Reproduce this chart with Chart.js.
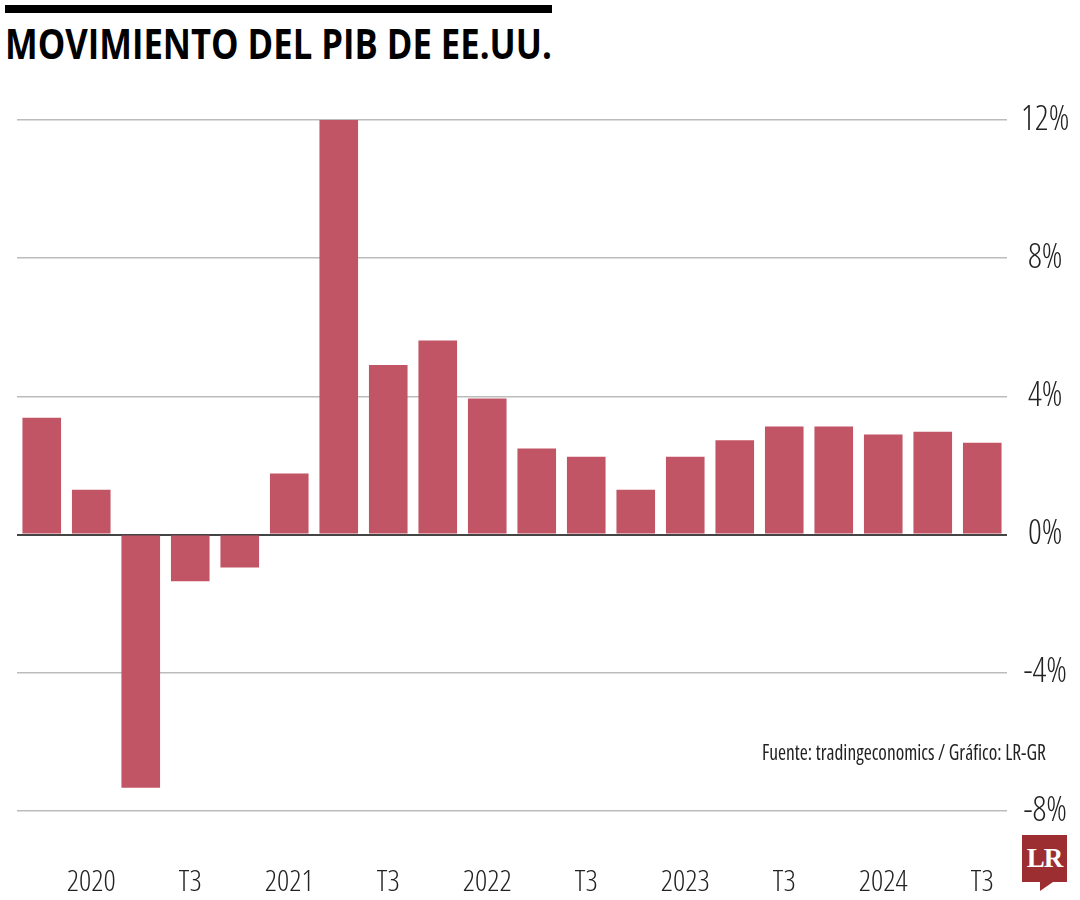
<!DOCTYPE html>
<html>
<head>
<meta charset="utf-8">
<script src="https://cdn.jsdelivr.net/npm/chart.js@4.4.1/dist/chart.umd.min.js"></script>
<style>
  html, body { margin: 0; padding: 0; background: #fff; }
  #page { position: relative; width: 1080px; height: 900px; overflow: hidden; }
  #topbar { position: absolute; left: 5px; top: 5px; width: 547px; height: 8px; background: #000; }
  #title { position: absolute; left: 5px; top: 22px; font-family: "Open Sans", sans-serif; font-weight: 700;
           font-size: 42px; line-height: 42px; color: #000; white-space: nowrap; transform-origin: left top; }
  #source { position: absolute; top: 739px; font-family: "Open Sans", sans-serif; font-stretch: condensed;
            font-size: 21px; line-height: 26px; color: #222; white-space: nowrap; transform-origin: left top; }
  #logo { position: absolute; left: 1022px; top: 835px; width: 45px; height: 47px; background: #9c2d30;
          color: #fff; font-family: "Liberation Serif", "DejaVu Serif", serif; font-weight: 700; font-size: 27px;
          line-height: 47px; text-align: center; letter-spacing: -1px; }
  #logotail { position: absolute; left: 1040px; top: 882px; width: 0; height: 0;
              border-top: 9px solid #9c2d30; border-right: 13px solid transparent; }
  #chartBox { position: absolute; left: 0; top: 90px; width: 1080px; height: 810px; }
</style>
</head>
<body>
<div id="page">
  <div id="topbar"></div>
  <div id="title">MOVIMIENTO DEL PIB DE EE.UU.</div>
  <div id="chartBox"><canvas id="gdpChart" width="1080" height="810"></canvas></div>
  <div id="source">Fuente: tradingeconomics / Gráfico: LR-GR</div>
  <div id="logo">LR</div>
  <div id="logotail"></div>
</div>
<script>
// quarters shown, 2019 T4 .. 2024 T3
var quarters = ["2019 T4", "2020 T1", "2020 T2", "2020 T3", "2020 T4",
                "2021 T1", "2021 T2", "2021 T3", "2021 T4",
                "2022 T1", "2022 T2", "2022 T3", "2022 T4",
                "2023 T1", "2023 T2", "2023 T3", "2023 T4",
                "2024 T1", "2024 T2", "2024 T3"];
var tickLabels = ["", "2020", "", "T3", "", "2021", "", "T3", "", "2022",
                  "", "T3", "", "2023", "", "T3", "", "2024", "", "T3"];
var gdpChange = [3.38, 1.30, -7.33, -1.35, -0.95, 1.77, 12.0, 4.91, 5.62, 3.94,
                 2.49, 2.25, 1.30, 2.25, 2.73, 3.13, 3.13, 2.90, 2.98, 2.66];
var yTicks = [-8, -4, 0, 4, 8, 12];

// squeeze a text block horizontally to the width it has in the original
function fitWidth(id, left, width) {
  var el = document.getElementById(id);
  el.style.left = left + "px";
  el.style.transform = "scaleX(" + (width / el.offsetWidth) + ")";
}
fitWidth("title", 5, 547);
fitWidth("source", 762, 284);

var tickFamily = "'Open Sans', sans-serif";
// chart.js only checks style, so the stretch keyword rides along with the weight
var tickWeight = "300 condensed";

const config_gdp = {
  type: "bar",
  data: {
    labels: quarters,
    datasets: [
      {
        label: "PIB EE.UU.",
        backgroundColor: "#c15565",
        borderWidth: 0,
        data: gdpChange,
        barPercentage: 0.78,
        categoryPercentage: 1.0,
      },
    ],
  },
  options: {
    responsive: false,
    animation: false,
    layout: { padding: { left: 17, top: 30, right: 0, bottom: 0 } },
    scales: {
      x: {
        afterFit: function (scale) {
          scale.height = 89;
          scale.paddingLeft = 0;
          scale.paddingRight = 0;
        },
        grid: { display: false, drawTicks: false },
        border: { display: false },
        ticks: {
          autoSkip: false,
          maxRotation: 0,
          padding: 53,
          color: "#222",
          font: { family: tickFamily, size: 30, weight: tickWeight },
          callback: function (value, index) { return tickLabels[index]; },
        },
      },
      y: {
        position: "right",
        min: -8,
        max: 12,
        afterFit: function (scale) {
          scale.width = 73;
          scale.paddingTop = 0;
          scale.paddingBottom = 0;
        },
        afterBuildTicks: function (scale) {
          scale.ticks = yTicks.map(function (v) { return { value: v }; });
        },
        grid: {
          drawTicks: false,
          color: function (ctx) { return ctx.tick && ctx.tick.value === 0 ? "#444" : "#bcbcbc"; },
          lineWidth: function (ctx) { return ctx.tick && ctx.tick.value === 0 ? 2 : 1.5; },
        },
        border: { display: false },
        ticks: {
          crossAlign: "center",
          padding: 14,
          color: "#222",
          font: { family: tickFamily, size: 34, weight: tickWeight },
          callback: function (value) { return value + "%"; },
        },
      },
    },
    plugins: {
      legend: { display: false },
      tooltip: { enabled: false },
    },
  },
};

const gdpChart = new Chart(document.getElementById("gdpChart"), config_gdp);
</script>
</body>
</html>
